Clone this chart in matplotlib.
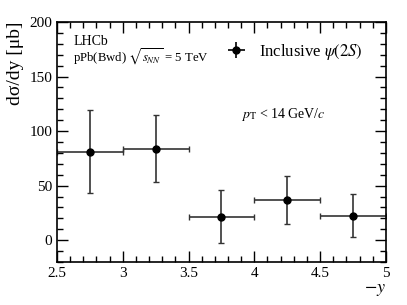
import numpy as np
import matplotlib
matplotlib.use("Agg")
import matplotlib.pyplot as plt
from matplotlib.ticker import MultipleLocator

plt.rcParams['font.family'] = ['Liberation Serif', 'DejaVu Serif']
plt.rcParams['mathtext.fontset'] = 'stix'

# -y bin centres and half widths
y_centres = [2.75, 3.25, 3.75, 4.25, 4.75]
y_halfwidth = [0.25, 0.25, 0.25, 0.25, 0.25]
# cross section dsigma/dy [ub]
xsec = [81, 84, 21, 37, 22.5]
err_lo = [38, 31, 24, 22, 19.5]
err_hi = [38, 31, 25, 22, 19.5]

fig = plt.figure(figsize=(4.07, 3.05), dpi=100)
ax = fig.add_axes([0.140, 0.141, 0.808, 0.787])

ax.errorbar(y_centres, xsec, xerr=y_halfwidth, yerr=[err_lo, err_hi],
            fmt='o', color='black', ms=5, elinewidth=1.2, capsize=2,
            capthick=1.0, ecolor='#333333')
# legend entry without caps
ax.errorbar([np.nan], [np.nan], xerr=[1], yerr=[1], fmt='o', color='black',
            ms=5, elinewidth=1.2, capsize=0, label=r'Inclusive $\psi(2S)$')

ax.set_xlim(2.5, 5)
ax.set_ylim(-20, 200)
ax.xaxis.set_major_locator(MultipleLocator(0.5))
ax.xaxis.set_minor_locator(MultipleLocator(0.1))
ax.yaxis.set_major_locator(MultipleLocator(50))
ax.yaxis.set_minor_locator(MultipleLocator(10))
ax.tick_params(which='both', direction='in', top=True, right=True, labelsize=11)
ax.tick_params(which='major', length=8, width=1)
ax.tick_params(which='minor', length=4, width=1)
ax.set_xticks([2.5, 3, 3.5, 4, 4.5, 5])
ax.set_xticklabels(['2.5', '3', '3.5', '4', '4.5', '5'])
for s in ax.spines.values():
    s.set_linewidth(1.2)

ax.set_ylabel('dσ/dy [μb]', fontsize=14, loc='top', labelpad=4)
ax.set_xlabel(r'$-y$', fontsize=13, loc='right', labelpad=1)

ax.text(0.05, 0.92, 'LHCb', transform=ax.transAxes, fontsize=10, va='center')
ax.text(0.05, 0.855, r'pPb(Bwd) $\sqrt{s_{NN}}$ = 5 TeV', transform=ax.transAxes,
        fontsize=9.2, va='center')
ax.text(0.56, 0.615, r'$p_{\mathrm{T}}$ < 14 GeV/$c$', transform=ax.transAxes,
        fontsize=10, va='center')

ax.legend(loc='upper right', bbox_to_anchor=(0.975, 0.98), frameon=False,
          fontsize=12, handlelength=1.9, handletextpad=0.4)

fig.savefig('out.png', dpi=100)
